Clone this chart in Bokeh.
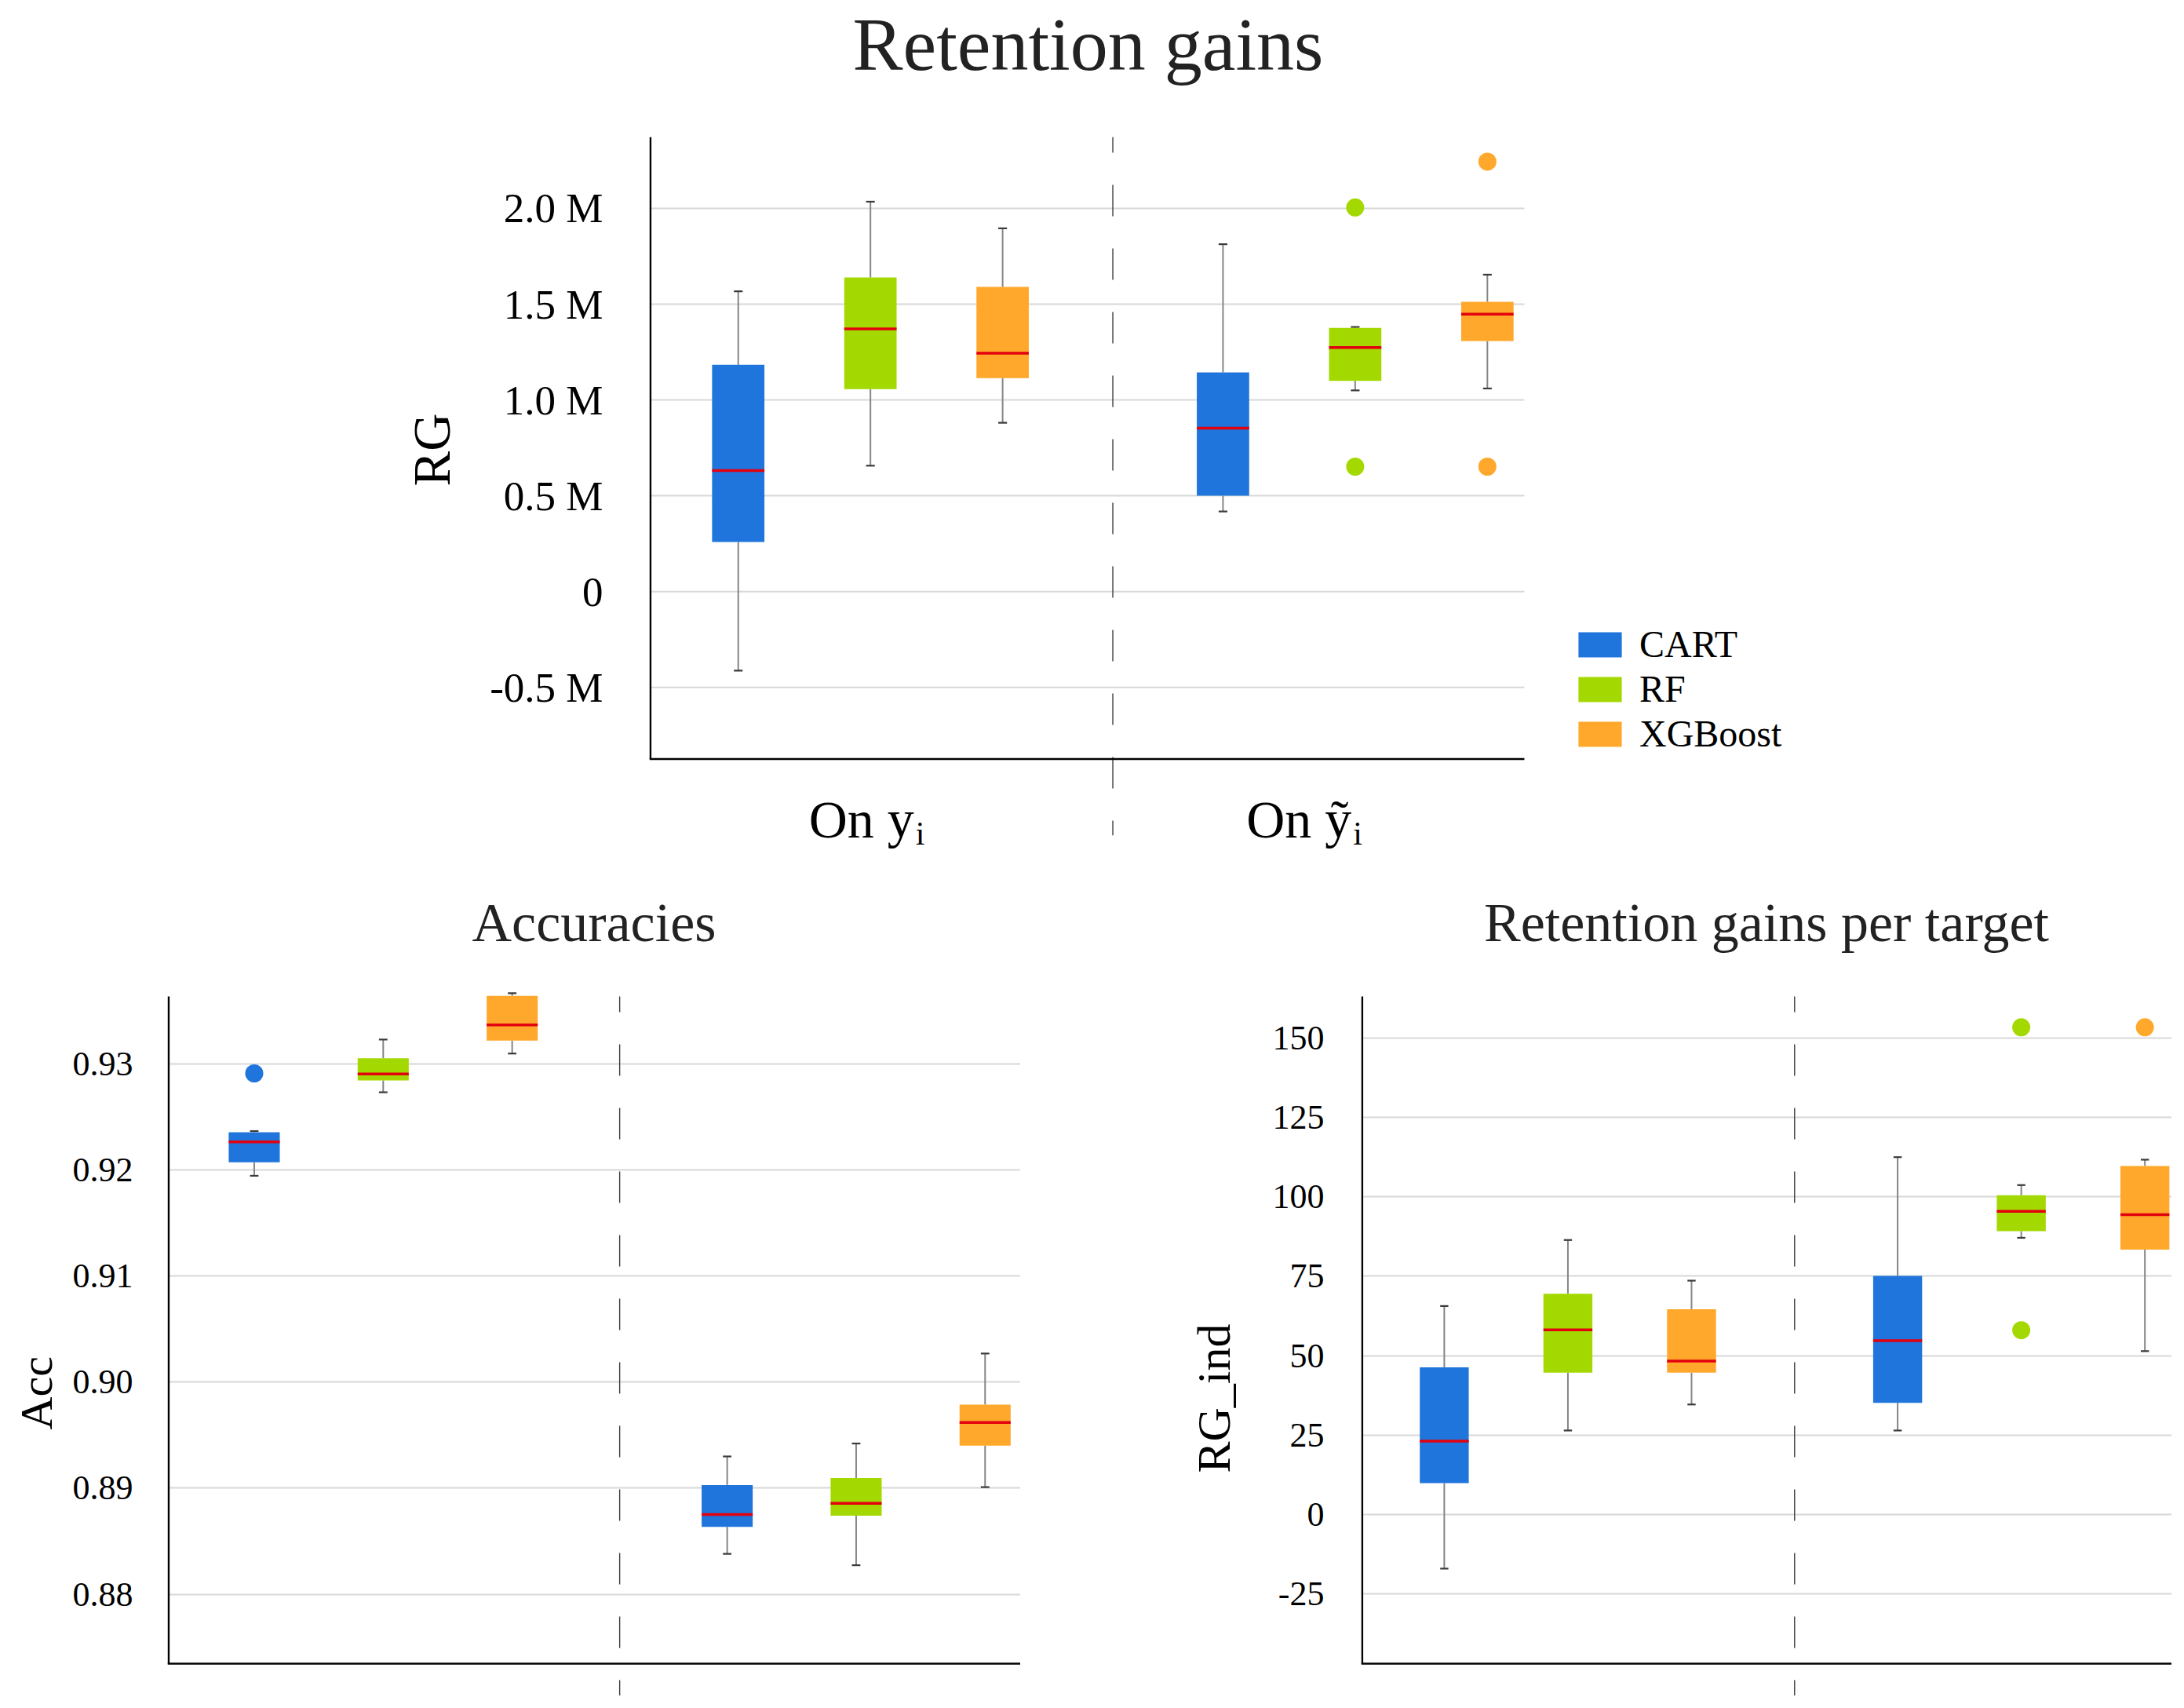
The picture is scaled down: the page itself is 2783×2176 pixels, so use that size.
from bokeh.plotting import figure
from bokeh.models import Range1d, FixedTicker, Legend, LegendItem, Title
from bokeh.layouts import column, row
from bokeh.embed import file_html
from bokeh.resources import INLINE
from bokeh.core.properties import value

FONT = "Liberation Serif"

# ---------------- data ----------------
models = ["CART", "RF", "XGBoost"]
model_colors = ["#1f75db", "#a3d900", "#ffa82b"]
group_labels = ["On y", "On ỹ"]
group_subscript = "i"

# box order: CART, RF, XGBoost on y_i, then CART, RF, XGBoost on ỹ_i
rg_low = [-413000, 657000, 881000, 418000, 1050000, 1060000]
rg_q1 = [259000, 1057000, 1114000, 500000, 1100000, 1308000]
rg_med = [632000, 1371000, 1244000, 853000, 1274000, 1448000]
rg_q3 = [1184000, 1639000, 1590000, 1144000, 1376000, 1512000]
rg_high = [1567000, 2035000, 1896000, 1813000, 1381000, 1654000]
rg_out_box = [4, 4, 5, 5]
rg_out_val = [2005000, 652000, 2244000, 652000]
rg_ticks = [-500000, 0, 500000, 1000000, 1500000, 2000000]
rg_tick_labels = ["-0.5 M", "0", "0.5 M", "1.0 M", "1.5 M", "2.0 M"]

acc_low = [0.91944, 0.92731, 0.93096, 0.88381, 0.88274, 0.89010]
acc_q1 = [0.92071, 0.92843, 0.93218, 0.88635, 0.88741, 0.89401]
acc_med = [0.92264, 0.92904, 0.93365, 0.88751, 0.88858, 0.89619]
acc_q3 = [0.92355, 0.93051, 0.93640, 0.89030, 0.89096, 0.89787]
acc_high = [0.92365, 0.93228, 0.93665, 0.89299, 0.89421, 0.90269]
acc_out_box = [0]
acc_out_val = [0.92909]
acc_ticks = [0.88, 0.89, 0.90, 0.91, 0.92, 0.93]
acc_tick_labels = ["0.88", "0.89", "0.90", "0.91", "0.92", "0.93"]

ind_low = [-17.1, 26.4, 34.6, 26.4, 87.1, 51.4]
ind_q1 = [9.8, 44.6, 44.6, 35.1, 89.2, 83.4]
ind_med = [23.05, 58.1, 48.3, 54.7, 95.4, 94.4]
ind_q3 = [46.3, 69.5, 64.6, 75.1, 100.5, 109.7]
ind_high = [65.6, 86.4, 73.6, 112.5, 103.7, 111.7]
ind_out_box = [4, 4, 5]
ind_out_val = [153.4, 58.0, 153.4]
ind_ticks = [-25, 0, 25, 50, 75, 100, 125, 150]
ind_tick_labels = ["-25", "0", "25", "50", "75", "100", "125", "150"]

# ---------------- style / layout ----------------
MODEL_STEP = 0.2727
BOX_W = 0.108
CAP_W = 0.018
SEP_X = 0.5
GRID_COLOR = "#d8d8d8"
RED = "#e3000f"
WHISKER = "#858585"
CAP = "#3a3a3a"
X_START = -0.456


def box_x(k):
    return (k // 3) + ((k % 3) - 1) * MODEL_STEP


def make_fig(width, height, b_left, b_top, x_end, y_start, y_end, title, title_size,
             title_align, title_offset, spacer_standoff, ticks, tick_labels, tick_size,
             tick_standoff, builtin_grid, ylabel, ylabel_size, ylabel_offset, ylabel_standoff):
    p = figure(width=width, height=height, output_backend="svg", toolbar_location=None,
               x_range=Range1d(X_START, x_end), y_range=Range1d(y_start, y_end),
               min_border_left=b_left, min_border_top=b_top,
               min_border_right=0, min_border_bottom=0, title=None)
    p.outline_line_color = None
    p.background_fill_color = "white"
    p.border_fill_color = "white"
    p.xaxis.visible = False
    p.xgrid.visible = False
    # spacer between frame and title, then the title itself
    p.add_layout(Title(text=" ", text_font_size="10px", standoff=spacer_standoff), "above")
    p.add_layout(Title(text=title, align=title_align, offset=title_offset, text_font=FONT,
                       text_font_size=title_size, text_font_style="normal",
                       text_color="#222222", standoff=0), "above")
    ax = p.yaxis[0]
    ax.ticker = FixedTicker(ticks=ticks)
    ax.major_label_overrides = dict(zip(ticks, tick_labels))
    ax.axis_line_color = None
    ax.major_tick_line_color = None
    ax.minor_tick_line_color = None
    ax.major_tick_out = 0
    ax.major_tick_in = 0
    ax.minor_tick_out = 0
    ax.minor_tick_in = 0
    ax.major_label_text_font = FONT
    ax.major_label_text_font_size = tick_size
    ax.major_label_text_color = "black"
    ax.major_label_standoff = tick_standoff
    # y-axis label, placed as a side title so it can be centred on the drawn axis
    p.add_layout(Title(text=ylabel, align="left", offset=ylabel_offset, vertical_align="bottom",
                       text_font=FONT, text_font_size=ylabel_size, text_font_style="normal",
                       text_color="black", standoff=ylabel_standoff), "left")
    if builtin_grid:
        p.ygrid.ticker = FixedTicker(ticks=ticks)
        p.ygrid.grid_line_color = GRID_COLOR
        p.ygrid.grid_line_width = 2
    else:
        p.ygrid.visible = False
    return p


def draw_boxes(p, low, q1, med, q3, high, out_box, out_val, grid_x1, ticks, manual_grid,
               axis_y, axis_x1, axis_top, dash_top, dash_bottom, px_unit):
    xs = [box_x(k) for k in range(len(med))]
    if manual_grid:
        p.segment(x0=[X_START] * len(ticks), x1=[grid_x1] * len(ticks), y0=ticks, y1=ticks,
                  line_color=GRID_COLOR, line_width=2)
    p.segment(x0=[SEP_X], x1=[SEP_X], y0=[dash_top], y1=[dash_bottom],
              line_color="#3c3c3c", line_width=1.4, line_dash="40 41", line_dash_offset=20)
    p.segment(x0=xs, x1=xs, y0=low, y1=q1, line_color=WHISKER, line_width=2)
    p.segment(x0=xs, x1=xs, y0=q3, y1=high, line_color=WHISKER, line_width=2)
    p.segment(x0=[x - CAP_W / 2 for x in xs], x1=[x + CAP_W / 2 for x in xs], y0=low, y1=low,
              line_color=CAP, line_width=2.2)
    p.segment(x0=[x - CAP_W / 2 for x in xs], x1=[x + CAP_W / 2 for x in xs], y0=high, y1=high,
              line_color=CAP, line_width=2.2)
    rends = []
    for m in range(3):
        idx = [i for i in range(len(med)) if i % 3 == m]
        r = p.vbar(x=[xs[i] for i in idx], top=[q3[i] for i in idx], bottom=[q1[i] for i in idx],
                   width=BOX_W, fill_color=model_colors[m], line_color=None)
        rends.append(r)
    p.segment(x0=[x - BOX_W / 2 for x in xs], x1=[x + BOX_W / 2 for x in xs], y0=med, y1=med,
              line_color=RED, line_width=3.5)
    p.scatter(x=[xs[k] for k in out_box], y=out_val, size=23, line_color=None,
              fill_color=[model_colors[k % 3] for k in out_box])
    eps = 1.3 / px_unit
    p.segment(x0=[X_START + eps], x1=[X_START + eps], y0=[axis_y], y1=[axis_top],
              line_color="black", line_width=2.6)
    p.segment(x0=[X_START], x1=[axis_x1], y0=[axis_y], y1=[axis_y],
              line_color="black", line_width=2.6)
    return rends


# ---------------- top panel ----------------
TOP_PX = 617.7
top_x_end = X_START + 1940 / TOP_PX
top_right = 1.349
TOP_Y0, TOP_Y1 = -1503100, 2372800
TOP_AXIS_Y = -874200
p1 = make_fig(2767, 1120, 827, 169, top_x_end, TOP_Y0, TOP_Y1,
              "Retention gains", "96px", "left", 259, 52,
              rg_ticks, rg_tick_labels, "53px", 59, False, "RG", "67px", 501, 70)
r1 = draw_boxes(p1, rg_low, rg_q1, rg_med, rg_q3, rg_high, rg_out_box, rg_out_val,
                top_right, rg_ticks, True, TOP_AXIS_Y, top_right, TOP_Y1,
                TOP_Y1, -1272900, TOP_PX)
half_centers = [(X_START + SEP_X) / 2, (SEP_X + top_right) / 2]
LABEL_Y = -1190700
p1.text(x=half_centers, y=[LABEL_Y, LABEL_Y], text=group_labels, text_align="right",
        text_baseline="alphabetic", x_offset=42, text_font=value(FONT),
        text_font_size="68px", text_color="black")
p1.text(x=half_centers, y=[LABEL_Y, LABEL_Y], text=[group_subscript, group_subscript],
        text_align="left", text_baseline="alphabetic", x_offset=44, y_offset=18,
        text_font=value(FONT), text_font_size="42px", text_color="black")
legend = Legend(items=[LegendItem(label=m, renderers=[r]) for m, r in zip(models, r1)],
                location=(1177, 158), orientation="vertical", glyph_width=69, glyph_height=40,
                label_standoff=16, spacing=2, padding=0, margin=0, border_line_color=None,
                background_fill_alpha=0, label_text_font=FONT, label_text_font_size="48px",
                label_height=32, label_text_color="black")
p1.add_layout(legend)

# ---------------- bottom-left ----------------
BOT_PX = 577.7
ACC_Y0, ACC_Y1 = 0.87043, 0.936783
ACC_AXIS_TOP = 0.93634
p2 = make_fig(1300, 1040, 209, 143, X_START + 1042 / BOT_PX, ACC_Y0, ACC_Y1,
              "Accuracies", "70px", "center", 0, 37,
              acc_ticks, acc_tick_labels, "44px", 44, True, "Acc", "58px", 339, 22)
draw_boxes(p2, acc_low, acc_q1, acc_med, acc_q3, acc_high, acc_out_box, acc_out_val,
           None, acc_ticks, False, 0.87346, X_START + 1042 / BOT_PX, ACC_AXIS_TOP,
           ACC_AXIS_TOP, ACC_Y0, BOT_PX)

# ---------------- bottom-right ----------------
IND_Y0, IND_Y1 = -57.17, 164.59
IND_AXIS_TOP = 163.1
p3 = make_fig(1467, 1040, 434, 143, X_START + 1033 / BOT_PX, IND_Y0, IND_Y1,
              "Retention gains per target", "70px", "center", 0, 37,
              ind_ticks, ind_tick_labels, "44px", 47, True, "RG_ind", "60px", 284, 78)
draw_boxes(p3, ind_low, ind_q1, ind_med, ind_q3, ind_high, ind_out_box, ind_out_val,
           None, ind_ticks, False, -47.03, X_START + 1033 / BOT_PX, IND_AXIS_TOP,
           IND_AXIS_TOP, IND_Y0, BOT_PX)

layout = column(p1, row(p2, p3, spacing=0), spacing=0)
open("out.html", "w").write(file_html(layout, INLINE))
